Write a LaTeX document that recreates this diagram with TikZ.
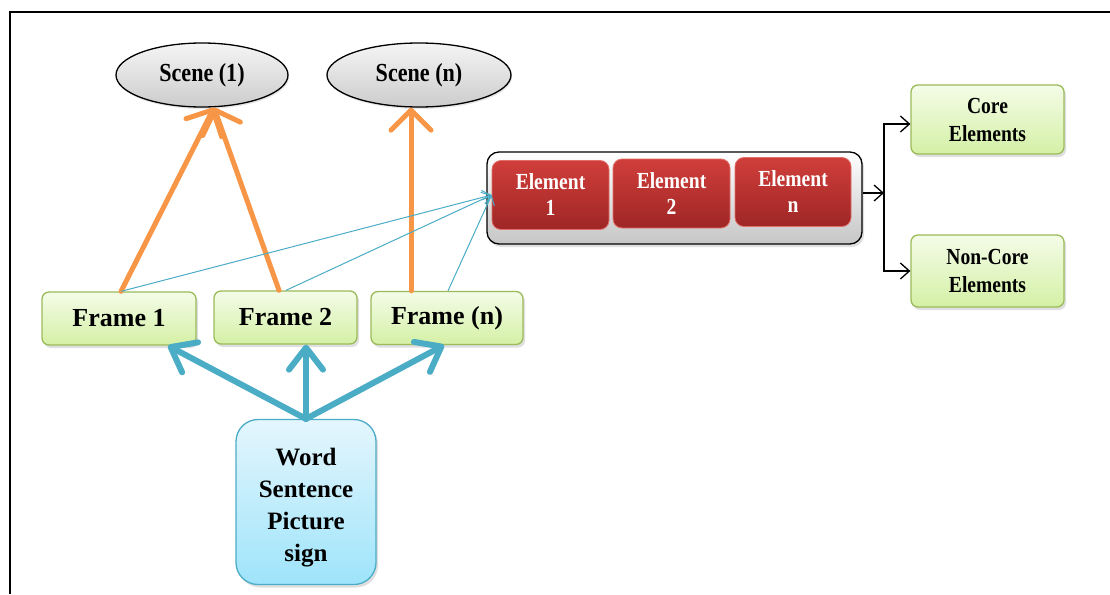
\documentclass[tikz,border=0pt]{standalone}
\usepackage{fontspec}
\setmainfont{Liberation Serif}
\newfontfamily\condfont[FakeStretch=0.85]{Liberation Serif}
\usetikzlibrary{shapes.geometric,arrows.meta,shadows,positioning}

\definecolor{greenline}{RGB}{155,187,89}
\definecolor{greentop}{RGB}{244,252,232}
\definecolor{greenbot}{RGB}{212,240,165}
\definecolor{blueline}{RGB}{75,172,198}
\definecolor{bluetop}{RGB}{228,246,253}
\definecolor{bluebot}{RGB}{158,228,250}
\definecolor{redtop}{RGB}{208,62,58}
\definecolor{redbot}{RGB}{158,38,38}
\definecolor{redline}{RGB}{225,110,105}
\definecolor{orangeline}{RGB}{247,150,70}

\tikzset{
  scene/.style={ellipse,draw,line width=1.3pt,top color=gray!8,bottom color=gray!40,
    inner sep=0pt,drop shadow={shadow xshift=1pt,shadow yshift=-2pt,opacity=0.2},
    font=\condfont\bfseries\fontsize{26}{28}\selectfont},
  framebox/.style={rectangle,rounded corners=7pt,draw=greenline,line width=1.3pt,
    top color=greentop,bottom color=greenbot,inner sep=0pt,minimum height=53pt,
    drop shadow={shadow xshift=2pt,shadow yshift=-3pt,opacity=0.25},
    font=\bfseries\fontsize{26}{28}\selectfont},
  sidebox/.style={framebox,minimum width=153pt,align=center,
    font=\condfont\bfseries\fontsize{23}{28}\selectfont},
  wordbox/.style={rectangle,rounded corners=22pt,draw=blueline,line width=1.3pt,
    top color=bluetop,bottom color=bluebot,inner sep=0pt,align=center,
    minimum width=140pt,minimum height=165pt,
    drop shadow={shadow xshift=2pt,shadow yshift=-3pt,opacity=0.25},
    font=\bfseries\fontsize{25}{32}\selectfont},
  holder/.style={rectangle,rounded corners=12pt,draw,line width=1.3pt,
    top color=white,bottom color=gray!45,minimum width=375pt,minimum height=92pt,
    drop shadow={shadow xshift=2pt,shadow yshift=-3pt,opacity=0.25}},
  elem/.style={rectangle,rounded corners=9pt,draw=redline,line width=0.8pt,
    top color=redtop,bottom color=redbot,text=white,align=center,inner sep=0pt,
    minimum width=117pt,minimum height=69pt,
    font=\condfont\bfseries\fontsize{23}{26}\selectfont},
  orangearrow/.style={draw=orangeline,line width=5pt,line cap=round,
    -{Straight Barb[length=20pt,width=40pt,line cap=round,line join=round]}},
  thickblue/.style={draw=blueline,line width=6pt,line cap=round,
    -{Straight Barb[length=22pt,width=34pt,line cap=round,line join=round]}},
  thinblue/.style={draw=blueline,line width=1pt,
    -{Straight Barb[length=8pt,width=14pt]}},
  blackarrow/.style={draw,line width=1.3pt,
    -{Straight Barb[length=9pt,width=16pt]}}
}

\begin{document}
\begin{tikzpicture}[x=1pt,y=-1pt]
  \useasboundingbox (0,0) rectangle (1110,594);
  \draw[line width=2pt] (10,594) -- (10,12) -- (1110,12);

  % scenes
  \node[scene,minimum width=172pt,minimum height=64pt] (sc1) at (202,75) {Scene (1)};
  \node[scene,minimum width=184pt,minimum height=64pt] (scn) at (419,75) {Scene (n)};

  % frames
  \node[framebox,minimum width=154pt] (fr1) at (119,318.5) {Frame 1};
  \node[framebox,minimum width=143pt] (fr2) at (285.5,317.5) {Frame 2};
  \node[framebox,minimum width=152pt] (frn) at (447,318) {Frame (n)};

  \node[wordbox] (word) at (306,502) {\rule{0pt}{28pt}Word\\Sentence\\Picture\\sign};

  % elements
  \node[holder] (hold) at (674.5,198) {};
  \node[elem] (el1) at (550.5,195) {Element\\1};
  \node[elem] (el2) at (671.5,193.5) {Element\\2};
  \node[elem,minimum width=116pt] (eln) at (793,192) {Element\\n};

  \node[sidebox,minimum height=69pt] (core) at (987.5,119.5) {Core\\Elements};
  \node[sidebox,minimum height=72pt] (noncore) at (987.5,271) {Non-Core\\Elements};

  % connectors
  \draw[orangearrow] ([xshift=2pt]fr1.north) -- ([xshift=12pt]sc1.south);
  \draw[orangearrow] ([xshift=-6.5pt]fr2.north) -- ([xshift=12pt]sc1.south);
  \draw[orangearrow] ([xshift=-36pt]frn.north) -- ([xshift=-8pt]scn.south);

  \draw[thinblue] ([xshift=2pt]fr1.north) -- (el1.west);
  \draw[thinblue] ([xshift=0.5pt]fr2.north) -- (el1.west);
  \draw[thinblue] ([xshift=1pt]frn.north) -- (el1.west);

  \draw[thickblue] (word.north) -- ([xshift=49pt]fr1.south);
  \draw[thickblue] (word.north) -- ([xshift=20.5pt]fr2.south);
  \draw[thickblue] (word.north) -- ([xshift=-3pt]frn.south);

  \coordinate (split) at (884,193);
  \draw[blackarrow] ([yshift=5pt]hold.east) -- (split);
  \draw[blackarrow] (split) |- ([yshift=-4.5pt]core.west);
  \draw[blackarrow] (split) |- (noncore.west);
\end{tikzpicture}
\end{document}
